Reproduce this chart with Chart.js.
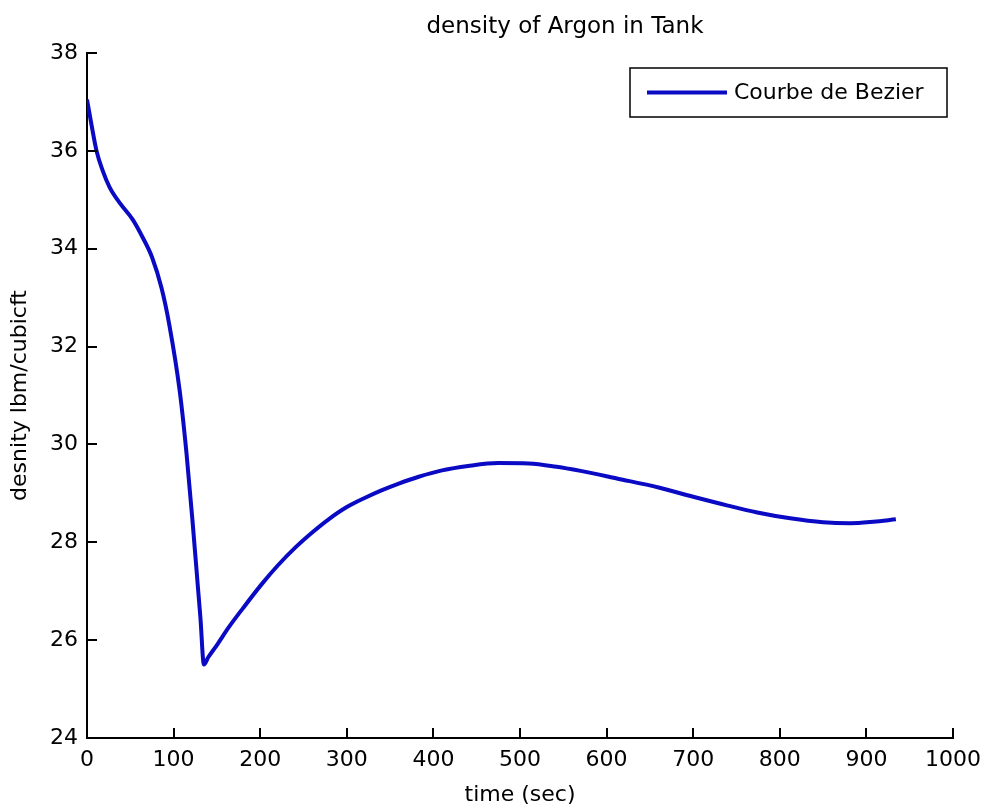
<!DOCTYPE html>
<html>
<head>
<meta charset="utf-8">
<script src="https://cdn.jsdelivr.net/npm/chart.js@4/dist/chart.umd.min.js"></script>
<style>
  body { margin: 0; background: #ffffff; }
</style>
</head>
<body>
<canvas id="chart" width="990" height="810"></canvas>
<script>
// values
const timeSec = [0, 5, 11, 18, 26, 38, 53, 64, 75, 86, 95, 107, 115, 122, 128, 131, 135,
  140, 150, 164, 180, 202, 220, 241, 260, 279, 300, 320, 340, 360, 383, 410, 440, 475,
  510, 540, 570, 613, 660, 700, 740, 774, 812, 850, 881, 908, 934];
const densityValues = [37.05, 36.55, 36.0, 35.6, 35.26, 34.93, 34.59, 34.24, 33.83, 33.2,
  32.45, 31.1, 29.8, 28.4, 27.1, 26.45, 25.5,
  25.65, 25.9, 26.27, 26.65, 27.15, 27.52, 27.9, 28.2, 28.47, 28.72, 28.9, 29.06, 29.2, 29.34,
  29.47, 29.56, 29.62, 29.61, 29.55, 29.46, 29.3, 29.12, 28.93, 28.75, 28.61, 28.49,
  28.41, 28.39, 28.42, 28.47];
const xTicks = [0, 100, 200, 300, 400, 500, 600, 700, 800, 900, 1000];
const yTicks = [24, 26, 28, 30, 32, 34, 36, 38];
const seriesLabel = 'Courbe de Bezier';
const chartTitle = 'density of Argon in Tank';

const FONT = "'DejaVu Sans', sans-serif";
const lineColor = '#0a0ac4';

// matlab style ticks pointing into the axes, title and the boxed legend
const matlabAxes = {
  id: 'matlabAxes',
  afterDraw(chart) {
    const ctx = chart.ctx;
    const xs = chart.scales.x;
    const ys = chart.scales.y;
    const area = chart.chartArea;
    ctx.save();
    ctx.strokeStyle = '#000';
    ctx.lineWidth = 2;
    ctx.beginPath();
    xTicks.forEach(v => {
      const px = Math.round(xs.getPixelForValue(v));
      ctx.moveTo(px, area.bottom);
      ctx.lineTo(px, area.bottom - 10);
    });
    yTicks.forEach(v => {
      const py = Math.round(ys.getPixelForValue(v));
      ctx.moveTo(area.left, py);
      ctx.lineTo(area.left + 10, py);
    });
    ctx.stroke();

    // title
    ctx.fillStyle = '#000';
    ctx.font = '23px ' + FONT;
    ctx.textAlign = 'center';
    ctx.textBaseline = 'middle';
    ctx.fillText(chartTitle, 565, 27);

    // legend
    const bx = 630, by = 68, bw = 317, bh = 49;
    ctx.fillStyle = '#fff';
    ctx.fillRect(bx, by, bw, bh);
    ctx.strokeStyle = '#000';
    ctx.lineWidth = 1.5;
    ctx.strokeRect(bx, by, bw, bh);
    ctx.strokeStyle = lineColor;
    ctx.lineWidth = 4;
    ctx.beginPath();
    ctx.moveTo(bx + 17, by + bh / 2);
    ctx.lineTo(bx + 97, by + bh / 2);
    ctx.stroke();
    ctx.fillStyle = '#000';
    ctx.font = '22px ' + FONT;
    ctx.textBaseline = 'middle';
    ctx.textAlign = 'left';
    ctx.fillText(chart.data.datasets[0].label, bx + 104, by + bh / 2 + 1);
    ctx.restore();
  }
};

new Chart(document.getElementById('chart'), {
  type: 'line',
  data: {
    datasets: [{
      label: seriesLabel,
      data: timeSec.map((t, i) => ({ x: t, y: densityValues[i] })),
      borderColor: lineColor,
      borderWidth: 4,
      pointRadius: 0,
      cubicInterpolationMode: 'monotone',
      fill: false
    }]
  },
  options: {
    responsive: false,
    animation: false,
    layout: { padding: { top: 53, right: 33, left: 0, bottom: 0 } },
    plugins: {
      legend: { display: false },
      tooltip: { enabled: false },
      title: { display: false }
    },
    scales: {
      x: {
        type: 'linear',
        min: 0,
        max: 1000,
        afterBuildTicks: s => { s.ticks = xTicks.map(v => ({ value: v })); },
        afterFit: s => { s.height = 72; },
        grid: { display: false, drawTicks: false, tickLength: 0 },
        border: { display: true, color: '#000', width: 2 },
        ticks: {
          color: '#000',
          padding: 9,
          maxRotation: 0,
          autoSkip: false,
          callback: v => String(v),
          font: { family: FONT, size: 22 }
        },
        title: {
          display: true,
          text: 'time (sec)',
          color: '#000',
          font: { family: FONT, size: 22 },
          padding: { top: 0, bottom: 2 }
        }
      },
      y: {
        min: 24,
        max: 38,
        afterBuildTicks: s => { s.ticks = yTicks.map(v => ({ value: v })); },
        afterFit: s => { s.width = 87; },
        grid: { display: false, drawTicks: false, tickLength: 0 },
        border: { display: true, color: '#000', width: 2 },
        ticks: {
          color: '#000',
          padding: 9,
          autoSkip: false,
          callback: v => String(v),
          font: { family: FONT, size: 22 }
        },
        title: {
          display: true,
          text: 'desnity lbm/cubicft',
          color: '#000',
          font: { family: FONT, size: 22 },
          padding: { top: 7, bottom: 0 }
        }
      }
    }
  },
  plugins: [matlabAxes]
});
</script>
</body>
</html>
